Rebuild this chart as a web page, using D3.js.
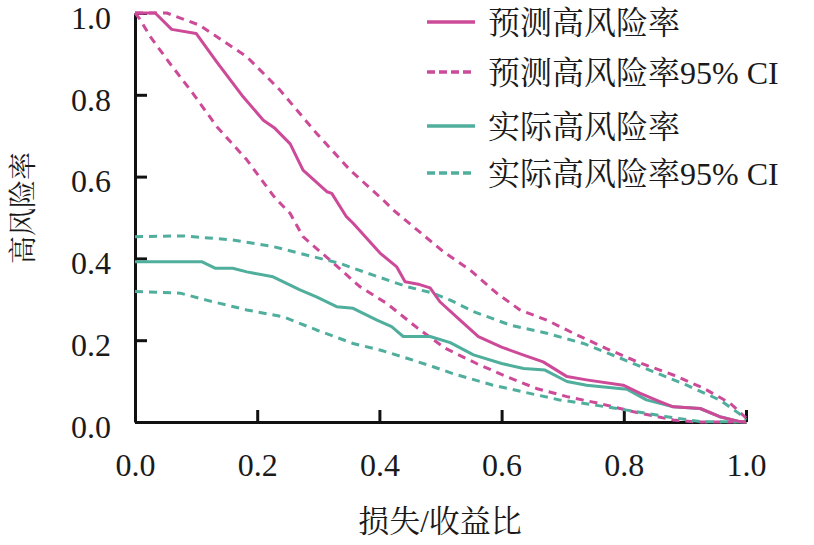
<!DOCTYPE html>
<html>
<head>
<meta charset="utf-8">
<script src="https://cdn.jsdelivr.net/npm/d3@7"></script>
<style>
  html, body { margin: 0; padding: 0; background: #fff; }
  svg { display: block; }
</style>
</head>
<body>
<svg id="chart" width="814" height="545"></svg>
<script>
// values, [loss/gain ratio, high-risk rate]
const predicted = [
  [0, 1.0], [0.033, 1.0], [0.06, 0.96], [0.10, 0.95], [0.134, 0.88], [0.177, 0.795],
  [0.21, 0.738], [0.229, 0.718], [0.254, 0.68], [0.275, 0.616], [0.314, 0.563],
  [0.322, 0.559], [0.346, 0.502], [0.357, 0.486], [0.401, 0.413], [0.428, 0.38],
  [0.442, 0.343], [0.466, 0.336], [0.483, 0.328], [0.499, 0.294], [0.532, 0.249],
  [0.562, 0.209], [0.600, 0.183], [0.635, 0.164], [0.668, 0.147], [0.707, 0.111],
  [0.739, 0.103], [0.799, 0.090], [0.827, 0.070], [0.859, 0.050], [0.881, 0.037],
  [0.925, 0.033], [0.957, 0.013], [0.990, 0.001], [1.0, 0]
];
const predictedUpper = [
  [0, 1.0], [0.052, 1.0], [0.106, 0.97], [0.183, 0.893], [0.237, 0.812], [0.297, 0.706],
  [0.352, 0.616], [0.406, 0.543], [0.423, 0.518], [0.505, 0.416], [0.548, 0.372],
  [0.592, 0.315], [0.630, 0.274], [0.674, 0.249], [0.723, 0.213], [0.777, 0.176],
  [0.827, 0.144], [0.881, 0.115], [0.930, 0.083], [0.974, 0.046], [1.0, 0.01]
];
const predictedLower = [
  [0, 1.0], [0.008, 0.985], [0.025, 0.942], [0.057, 0.877], [0.095, 0.803], [0.134, 0.722],
  [0.183, 0.641], [0.229, 0.548], [0.254, 0.51], [0.275, 0.453], [0.325, 0.388],
  [0.368, 0.331], [0.412, 0.29], [0.463, 0.229], [0.508, 0.18], [0.559, 0.143],
  [0.608, 0.111], [0.657, 0.082], [0.707, 0.062], [0.761, 0.045], [0.816, 0.025],
  [0.881, 0.005], [0.92, 0], [1.0, 0]
];
const actual = [
  [0, 0.392], [0.109, 0.392], [0.131, 0.376], [0.16, 0.376], [0.183, 0.367], [0.226, 0.355],
  [0.248, 0.339], [0.27, 0.323], [0.297, 0.306], [0.33, 0.282], [0.357, 0.278],
  [0.396, 0.249], [0.42, 0.233], [0.439, 0.209], [0.483, 0.209], [0.516, 0.194],
  [0.554, 0.164], [0.600, 0.143], [0.636, 0.131], [0.671, 0.127], [0.707, 0.099],
  [0.739, 0.090], [0.805, 0.080], [0.837, 0.054], [0.881, 0.037], [0.925, 0.033],
  [0.957, 0.013], [0.990, 0.001], [1.0, 0]
];
const actualUpper = [
  [0, 0.453], [0.079, 0.455], [0.16, 0.445], [0.226, 0.429], [0.292, 0.404], [0.335, 0.388],
  [0.39, 0.359], [0.445, 0.331], [0.488, 0.315], [0.516, 0.298], [0.554, 0.27],
  [0.614, 0.237], [0.674, 0.217], [0.734, 0.192], [0.788, 0.160], [0.848, 0.123],
  [0.903, 0.090], [0.957, 0.054], [0.996, 0.013], [1.0, 0.005]
];
const actualLower = [
  [0, 0.319], [0.074, 0.315], [0.117, 0.298], [0.183, 0.274], [0.243, 0.257], [0.297, 0.225],
  [0.357, 0.192], [0.401, 0.176], [0.445, 0.156], [0.488, 0.135], [0.521, 0.118],
  [0.586, 0.09], [0.646, 0.070], [0.695, 0.054], [0.750, 0.042], [0.805, 0.029],
  [0.870, 0.013], [0.925, 0.001], [1.0, 0]
];
const ticks = [0, 0.2, 0.4, 0.6, 0.8, 1.0];
const legendLabels = ['预测高风险率', '预测高风险率95% CI', '实际高风险率', '实际高风险率95% CI'];
const xTitle = '损失/收益比';
const yTitle = '高风险率';

const pink = '#cc4a98';
const teal = '#4fae9c';
const serif = '"Liberation Serif", "Noto Serif CJK SC", serif';

const margin = { top: 13, left: 135, right: 68, bottom: 123 };
const width = 814, height = 545;
const innerWidth = width - margin.left - margin.right;
const innerHeight = height - margin.top - margin.bottom;

const svg = d3.select('#chart');
const g = svg.append('g').attr('transform', `translate(${margin.left},${margin.top})`);

const x = d3.scaleLinear().domain([0, 1]).range([0, innerWidth]);
const y = d3.scaleLinear().domain([0, 1]).range([innerHeight, 0]);

// Axes, ticks pointing inward
const xAxis = g.append('g')
  .call(d3.axisBottom(x).tickValues(ticks).tickFormat(d3.format('.1f')).tickSize(-12).tickSizeOuter(0).tickPadding(31))
  .attr('transform', `translate(0,${innerHeight})`);
const yAxis = g.append('g')
  .call(d3.axisLeft(y).tickValues(ticks).tickFormat(d3.format('.1f')).tickSize(-12).tickSizeOuter(0).tickPadding(24));

[xAxis, yAxis].forEach(a => {
  a.attr('font-family', serif).attr('font-size', 32);
  a.select('.domain').attr('stroke', '#111').attr('stroke-width', 3);
  a.selectAll('.tick line').attr('stroke', '#111').attr('stroke-width', 3);
  a.selectAll('.tick text').attr('fill', '#1a1a1a');
});
yAxis.selectAll('.tick text').attr('dy', '0.48em');

const line = d3.line().x(d => x(d[0])).y(d => y(d[1]));

const series = [
  { data: predictedUpper, color: pink, dash: '8,6' },
  { data: predictedLower, color: pink, dash: '8,6' },
  { data: actualUpper, color: teal, dash: '8,6' },
  { data: actualLower, color: teal, dash: '8,6' },
  { data: actual, color: teal, dash: null },
  { data: predicted, color: pink, dash: null }
];

series.forEach(s => {
  g.append('path')
    .datum(s.data)
    .attr('d', line)
    .attr('fill', 'none')
    .attr('stroke', s.color)
    .attr('stroke-width', 3)
    .attr('stroke-linejoin', 'round')
    .attr('stroke-dasharray', s.dash);
});

// Axis titles
svg.append('text')
  .attr('x', 440).attr('y', 532)
  .attr('text-anchor', 'middle')
  .attr('font-family', serif)
  .attr('font-size', 31)
  .attr('fill', '#1a1a1a')
  .text(xTitle);

svg.append('text')
  .attr('transform', 'translate(33,208) rotate(-90)')
  .attr('text-anchor', 'middle')
  .attr('font-family', serif)
  .attr('font-size', 28)
  .attr('fill', '#1a1a1a')
  .text(yTitle);

// Legend
const legendRows = [
  { color: pink, dash: null, y: 22 },
  { color: pink, dash: '8,4', y: 72 },
  { color: teal, dash: null, y: 126 },
  { color: teal, dash: '8,4', y: 173 }
];
const legend = svg.append('g');
legendRows.forEach((r, i) => {
  legend.append('line')
    .attr('x1', 427).attr('x2', 475)
    .attr('y1', r.y).attr('y2', r.y)
    .attr('stroke', r.color)
    .attr('stroke-width', 3.5)
    .attr('stroke-dasharray', r.dash);
  legend.append('text')
    .attr('x', 488).attr('y', r.y)
    .attr('dy', '0.36em')
    .attr('font-family', serif)
    .attr('font-size', 32)
    .attr('fill', '#1a1a1a')
    .text(legendLabels[i]);
});
</script>
</body>
</html>
